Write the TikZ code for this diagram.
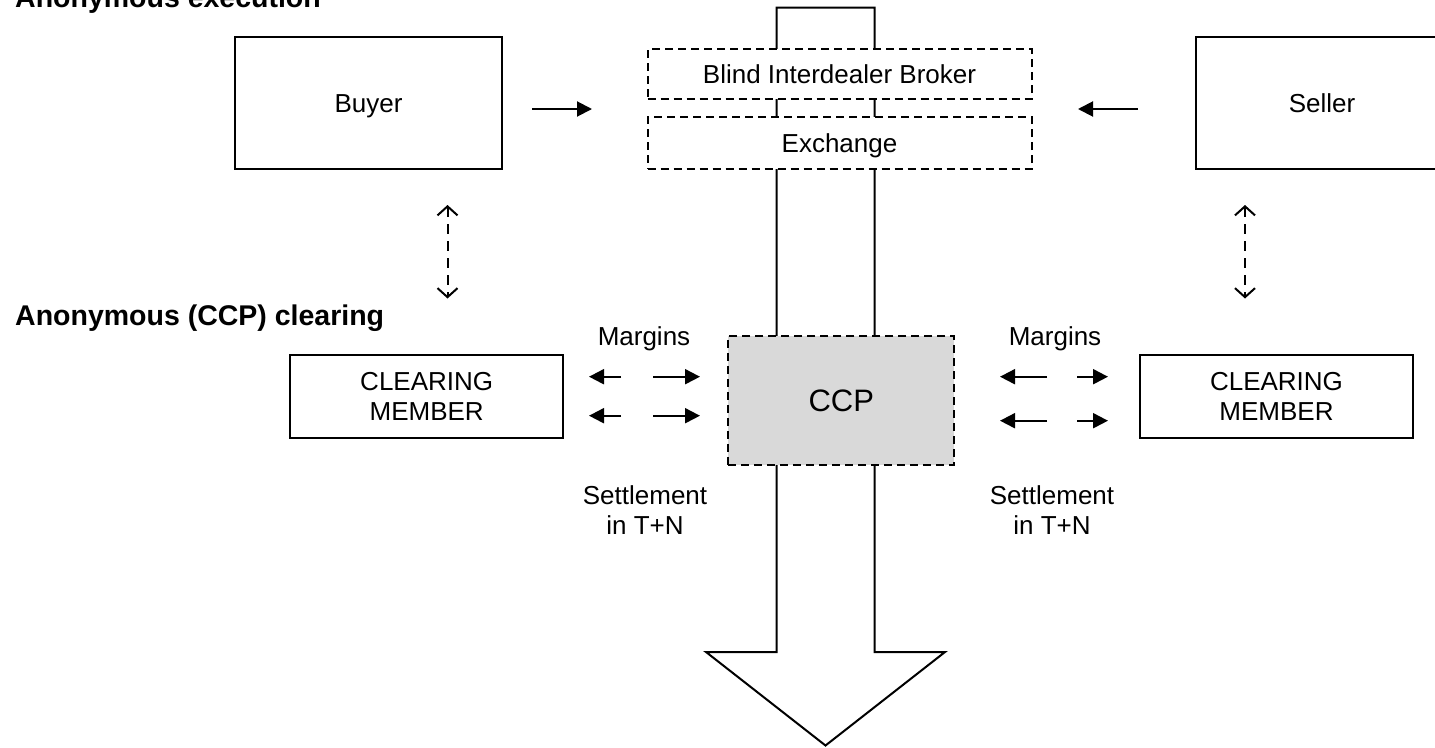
\documentclass[tikz,border=0pt]{standalone}
\usepackage{fontspec}
\setmainfont{Liberation Sans}
\usetikzlibrary{arrows.meta}
\definecolor{ccpgray}{HTML}{D9D9D9}
\begin{document}
\begin{tikzpicture}[x=1pt,y=-1pt,
  txt/.style={font=\fontsize{26}{30}\selectfont},
  box/.style={draw,line width=2pt,fill=white,inner sep=0pt,txt,align=center},
  one/.style={text height=18.6pt,text depth=0pt},
  dbox/.style={box,dash pattern=on 8pt off 5pt},
  title/.style={font=\fontsize{28.5}{32}\selectfont\bfseries,anchor=base west,inner sep=0pt},
  lbl/.style={txt,align=center,inner sep=0pt},
  flow/.style={line width=2pt,-{Triangle[length=15pt,width=15pt]}},
  link/.style={line width=2pt,dash pattern=on 10pt off 7pt,
    {Straight Barb[length=9pt,width=20pt]}-{Straight Barb[length=9pt,width=20pt]}},
  shaft/.style={draw,line width=2pt,fill=white,line join=miter}
]
\useasboundingbox (0,0) rectangle (1435,747);
\clip (0,0) rectangle (1435,747);

% big arrow
\draw[shaft] (776.5,7.5) -- (874.5,7.5) -- (874.5,652) -- (945,652) -- (825.5,745.5)
  -- (706,652) -- (776.5,652) -- cycle;

% titles
\node[title] (t1) at (15,7) {Anonymous execution};
\node[title] (t2) at (15,325) {Anonymous (CCP) clearing};

% boxes
\node[box,one,minimum width=267pt,minimum height=132pt] (buyer) at (368.5,103.3) {Buyer};
\node[box,one,minimum width=252pt,minimum height=132pt] (seller) at (1322,103.3) {Seller};
\node[dbox,one,minimum width=384pt,minimum height=50pt] (blind) at (839.5,74) {Blind Interdealer Broker};
\node[dbox,one,minimum width=384pt,minimum height=52pt] (exch) at (839.5,143) {Exchange};
\node[dbox,fill=ccpgray,minimum width=226pt,minimum height=129pt,
  text height=22.2pt,text depth=0pt,
  font=\fontsize{31}{34}\selectfont] (ccp) at (841.3,400.3) {CCP};
\node[box,minimum width=273pt,minimum height=83pt] (cml) at (426.7,396) {CLEARING\\MEMBER};
\node[box,minimum width=273pt,minimum height=83pt] (cmr) at (1276.5,396) {CLEARING\\MEMBER};

% execution arrows
\coordinate (ba) at (532,109); \coordinate (bb) at (592,109);
\coordinate (sa) at (1138,109); \coordinate (sb) at (1078,109);
\draw[flow] (ba) -- (bb);
\draw[flow] (sa) -- (sb);

% dashed vertical links
\coordinate (lu) at (447.5,205); \coordinate (ld) at (447.5,298.5);
\coordinate (ru) at (1245,205); \coordinate (rd) at (1245,298.5);
\draw[link] (lu) -- (ld);
\draw[link] (ru) -- (rd);

% margin arrows left
\coordinate (l1a) at (621,376.7); \coordinate (l1b) at (589,376.7);
\coordinate (l2a) at (653,376.7); \coordinate (l2b) at (700,376.7);
\coordinate (l3a) at (621,415.7); \coordinate (l3b) at (589,415.7);
\coordinate (l4a) at (653,415.7); \coordinate (l4b) at (700,415.7);
\draw[flow] (l1a) -- (l1b);
\draw[flow] (l2a) -- (l2b);
\draw[flow] (l3a) -- (l3b);
\draw[flow] (l4a) -- (l4b);

% margin arrows right
\coordinate (r1a) at (1047,376.7); \coordinate (r1b) at (1000,376.7);
\coordinate (r2a) at (1077,376.7); \coordinate (r2b) at (1108,376.7);
\coordinate (r3a) at (1047,420.7); \coordinate (r3b) at (1000,420.7);
\coordinate (r4a) at (1077,420.7); \coordinate (r4b) at (1108,420.7);
\draw[flow] (r1a) -- (r1b);
\draw[flow] (r2a) -- (r2b);
\draw[flow] (r3a) -- (r3b);
\draw[flow] (r4a) -- (r4b);

% labels
\node[lbl,anchor=base] (ml) at (644,345) {Margins};
\node[lbl,anchor=base] (mr) at (1055,345) {Margins};
\node[lbl] (sl) at (645,510) {Settlement\\in T+N};
\node[lbl] (sr) at (1052,510) {Settlement\\in T+N};
\end{tikzpicture}
\end{document}
